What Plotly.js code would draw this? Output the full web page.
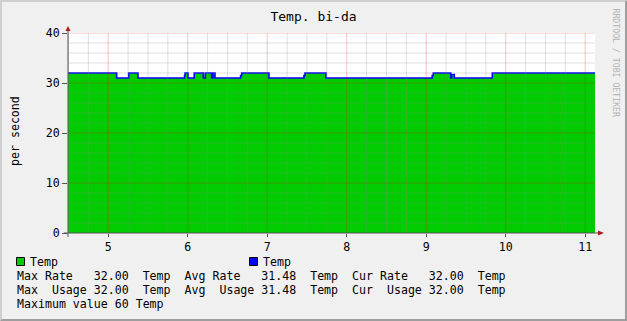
<!DOCTYPE html>
<html>
<head>
<meta charset="utf-8">
<script src="https://cdn.plot.ly/plotly-3.0.1.min.js"></script>
<style>
  html, body { margin: 0; padding: 0; background: #F0F0F0; }
  #wrap { position: relative; width: 627px; height: 321px; }
  #chart { position: absolute; left: 0; top: 0; width: 627px; height: 321px; }
  #frame { position: absolute; left: 0; top: 0; width: 627px; height: 321px; box-sizing: border-box;
           border-top: 2px solid #CFCFCF; border-left: 2px solid #CFCFCF;
           border-bottom: 2px solid #9E9E9E; border-right: 2px solid #9E9E9E; pointer-events: none; }
</style>
</head>
<body>
<div id="wrap"><div id="chart"></div><div id="frame"></div></div>
<script>
// ---- data (step changes: value holds until the next time) ----
const times  = [4.494, 5.106, 5.257, 5.374, 5.960, 5.967, 6.003, 6.082, 6.196, 6.221, 6.301, 6.318, 6.343, 6.665, 6.679, 7.022, 7.462, 7.475, 7.739, 9.075, 9.089, 9.308, 9.320, 9.353, 9.831, 11.123];
const values = [32,    31,    32,    31,    31.5,  32,    31,    32,    31,    32,    31,    32,    31,    31.5,  32,    31,    31.5,  32,    31,    31.5,  32,    31,    31.7,  31,    32,    32];

const xTicks = [5, 6, 7, 8, 9, 10, 11];
const yTicks = [0, 10, 20, 30, 40];
const xMinorStep = 0.25;
const yMinorStep = 2;

const titleText = "Temp. bi-da";
const yLabel = "per second";
const seriesNames = ["Temp", "Temp"];
const statLines = [
  "Max Rate   32.00  Temp  Avg Rate   31.48  Temp  Cur Rate   32.00  Temp",
  "Max  Usage 32.00  Temp  Avg  Usage 31.48  Temp  Cur  Usage 32.00  Temp",
  "Maximum value 60 Temp"
];
const watermark = "RRDTOOL / TOBI OETIKER";

// ---- layout helpers (pixel -> paper) ----
const L = 68, R = 595, T = 33, B = 233;
const W = R - L, H = B - T;
const px = p => (p - L) / W;
const py = p => (B - p) / H;
const FONT = "DejaVu Sans Mono";
const TXT = 11.6;
const sp = s => s.replace(/ /g, "\u00A0");

const xRange = [times[0], times[times.length - 1]];
const yRange = [0, 40];

// grid shapes above traces
const shapes = [];
for (let v = Math.ceil(xRange[0] / xMinorStep) * xMinorStep; v <= xRange[1] + 1e-9; v += xMinorStep) {
  if (Math.abs(v - Math.round(v)) < 1e-9) continue;
  shapes.push({type: "line", xref: "x", yref: "paper", x0: v, x1: v, y0: 0, y1: 1,
               line: {color: "rgba(140,140,140,0.28)", width: 1}, layer: "above"});
}
for (let v = yRange[0] + yMinorStep; v < yRange[1]; v += yMinorStep) {
  if (v % 10 === 0) continue;
  shapes.push({type: "line", xref: "paper", yref: "y", x0: 0, x1: 1, y0: v, y1: v,
               line: {color: "rgba(140,140,140,0.28)", width: 1}, layer: "above"});
}
xTicks.forEach(v => shapes.push({type: "line", xref: "x", yref: "paper", x0: v, x1: v, y0: 0, y1: 1,
               line: {color: "rgba(255,0,0,0.25)", width: 1}, layer: "above"}));
yTicks.filter(v => v > 0).forEach(v => shapes.push({type: "line", xref: "paper", yref: "y", x0: 0, x1: 1, y0: v, y1: v,
               line: {color: "rgba(255,0,0,0.25)", width: 1}, layer: "above"}));

// axis lines and arrows
const axisColor = "#555555";
const arrowColor = "#B01818";
shapes.push({type: "line", xref: "paper", yref: "paper", x0: px(L), x1: px(L), y0: py(237), y1: py(30),
             line: {color: axisColor, width: 1}, layer: "above"});
shapes.push({type: "line", xref: "paper", yref: "paper", x0: px(64), x1: px(600), y0: py(B), y1: py(B),
             line: {color: axisColor, width: 1}, layer: "above"});
shapes.push({type: "path", xref: "paper", yref: "paper",
             path: `M ${px(65.5)} ${py(31)} L ${px(70.5)} ${py(31)} L ${px(68)} ${py(26)} Z`,
             fillcolor: arrowColor, line: {width: 0}, layer: "above"});
shapes.push({type: "path", xref: "paper", yref: "paper",
             path: `M ${px(598)} ${py(230.5)} L ${px(598)} ${py(235.5)} L ${px(604)} ${py(B)} Z`,
             fillcolor: arrowColor, line: {width: 0}, layer: "above"});

// legend swatches
shapes.push({type: "rect", xref: "paper", yref: "paper", x0: px(16.5), x1: px(24.5), y0: py(265.5), y1: py(257.5),
             fillcolor: "#00CC00", line: {color: "#000000", width: 1}});
shapes.push({type: "rect", xref: "paper", yref: "paper", x0: px(249.5), x1: px(257.5), y0: py(265.5), y1: py(257.5),
             fillcolor: "#0000FF", line: {color: "#000000", width: 1}});

const txt = (text, x, y, size, extra) => Object.assign({
  text: sp(text), xref: "paper", yref: "paper", x: px(x), y: py(y), xanchor: "left", yanchor: "middle",
  showarrow: false, borderpad: 0, borderwidth: 0, font: {family: FONT, size: size, color: "#000000"}
}, extra || {});

const annotations = [
  txt(seriesNames[0], 30, 261.5, TXT),
  txt(seriesNames[1], 263, 261.5, TXT),
  txt(statLines[0], 16.5, 275.5, TXT),
  txt(statLines[1], 16.5, 289.5, TXT),
  txt(statLines[2], 16.5, 303.5, TXT),
  txt(yLabel, 14.5, 131.5, TXT, {xanchor: "center", textangle: -90}),
  txt(watermark, 615, 62.5, 8.2, {xanchor: "center", textangle: 90, font: {family: FONT, size: 8.2, color: "#B4B4B4"}})
];

const traces = [
  {x: times, y: values, type: "scatter", mode: "lines", line: {shape: "hv", width: 0, color: "#00CC00"},
   fill: "tozeroy", fillcolor: "#00CC00", name: seriesNames[0], hoverinfo: "skip"},
  {x: times, y: values, type: "scatter", mode: "lines", line: {shape: "hv", width: 1.6, color: "#0000FF"},
   name: seriesNames[1], hoverinfo: "skip"}
];

const layout = {
  width: 627, height: 321,
  margin: {l: L, r: 627 - R, t: T, b: 321 - B, pad: 0},
  paper_bgcolor: "#F0F0F0", plot_bgcolor: "#FFFFFF",
  showlegend: false,
  title: {text: titleText, font: {family: FONT, size: 13, color: "#000000"},
          x: 0.5, xref: "container", xanchor: "center", y: 1 - 16.5 / 321, yref: "container", yanchor: "middle"},
  xaxis: {range: xRange, tickvals: xTicks, ticktext: xTicks.map(String), showgrid: false, zeroline: false,
          showline: false, ticks: "outside", ticklen: 3, tickcolor: axisColor,
          tickfont: {family: FONT, size: TXT, color: "#000000"}, fixedrange: true},
  yaxis: {range: yRange, tickvals: yTicks, ticktext: yTicks.map(String), showgrid: false, zeroline: false,
          showline: false, ticks: "outside", ticklen: 5, tickcolor: axisColor,
          tickfont: {family: FONT, size: TXT, color: "#000000"}, fixedrange: true},
  shapes: shapes,
  annotations: annotations
};

Plotly.newPlot("chart", traces, layout, {displayModeBar: false, staticPlot: true});
</script>
</body>
</html>
